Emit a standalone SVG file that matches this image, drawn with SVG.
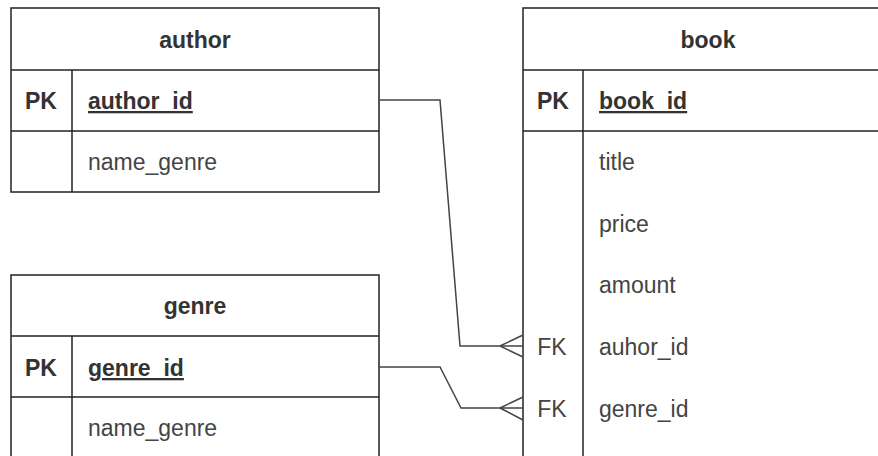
<svg xmlns="http://www.w3.org/2000/svg" width="878" height="456" viewBox="0 0 878 456">
<style>
.box{fill:#fff;stroke:#222;stroke-width:1.5}
.ln{stroke:#222;stroke-width:1.5;fill:none}
.hd{font-family:"Liberation Sans",Arial,sans-serif;font-size:23px;font-weight:bold;fill:#333;text-anchor:middle}
.pk{font-family:"Liberation Sans",Arial,sans-serif;font-size:23px;font-weight:bold;fill:#333;text-anchor:middle}
.fk{font-family:"Liberation Sans",Arial,sans-serif;font-size:23px;fill:#444;text-anchor:middle}
.kf{font-family:"Liberation Sans",Arial,sans-serif;font-size:23px;font-weight:bold;fill:#333;text-decoration:underline}
.f{font-family:"Liberation Sans",Arial,sans-serif;font-size:23px;fill:#444}
.con{stroke:#444;stroke-width:1.5;fill:none}
</style>
<g id="author">
<rect class="box" x="11" y="8" width="368" height="184"/>
<line class="ln" x1="11" y1="70" x2="379" y2="70"/>
<line class="ln" x1="11" y1="131" x2="379" y2="131"/>
<line class="ln" x1="72" y1="70" x2="72" y2="192"/>
<text class="hd" x="195" y="47.5">author</text>
<text class="pk" x="41" y="109">PK</text>
<text class="kf" x="88" y="109">author_id</text>
<text class="f" x="88" y="170">name_genre</text>
</g>
<g id="genre">
<rect class="box" x="11" y="275" width="368" height="184"/>
<line class="ln" x1="11" y1="336" x2="379" y2="336"/>
<line class="ln" x1="11" y1="397" x2="379" y2="397"/>
<line class="ln" x1="72" y1="336" x2="72" y2="459"/>
<text class="hd" x="195" y="314">genre</text>
<text class="pk" x="41" y="376">PK</text>
<text class="kf" x="88" y="376">genre_id</text>
<text class="f" x="88" y="436">name_genre</text>
</g>
<g id="book">
<rect class="box" x="523" y="8" width="370" height="470"/>
<line class="ln" x1="523" y1="70" x2="893" y2="70"/>
<line class="ln" x1="523" y1="131" x2="893" y2="131"/>
<line class="ln" x1="583" y1="70" x2="583" y2="478"/>
<text class="hd" x="708" y="47.5">book</text>
<text class="pk" x="553" y="109">PK</text>
<text class="kf" x="599" y="109">book_id</text>
<text class="f" x="599" y="170">title</text>
<text class="f" x="599" y="232">price</text>
<text class="f" x="599" y="293">amount</text>
<text class="fk" x="552" y="355">FK</text>
<text class="f" x="599" y="355">auhor_id</text>
<text class="fk" x="552" y="416.5">FK</text>
<text class="f" x="599" y="416.5">genre_id</text>
</g>
<g id="connectors">
<polyline class="con" points="379,100 440,100 460,346 523,346"/>
<polyline class="con" points="500,346 523,335"/>
<polyline class="con" points="500,346 523,357"/>
<polyline class="con" points="379,367 440,367 461,408 523,408"/>
<polyline class="con" points="500,408 523,397"/>
<polyline class="con" points="500,408 523,420"/>
</g>
</svg>
